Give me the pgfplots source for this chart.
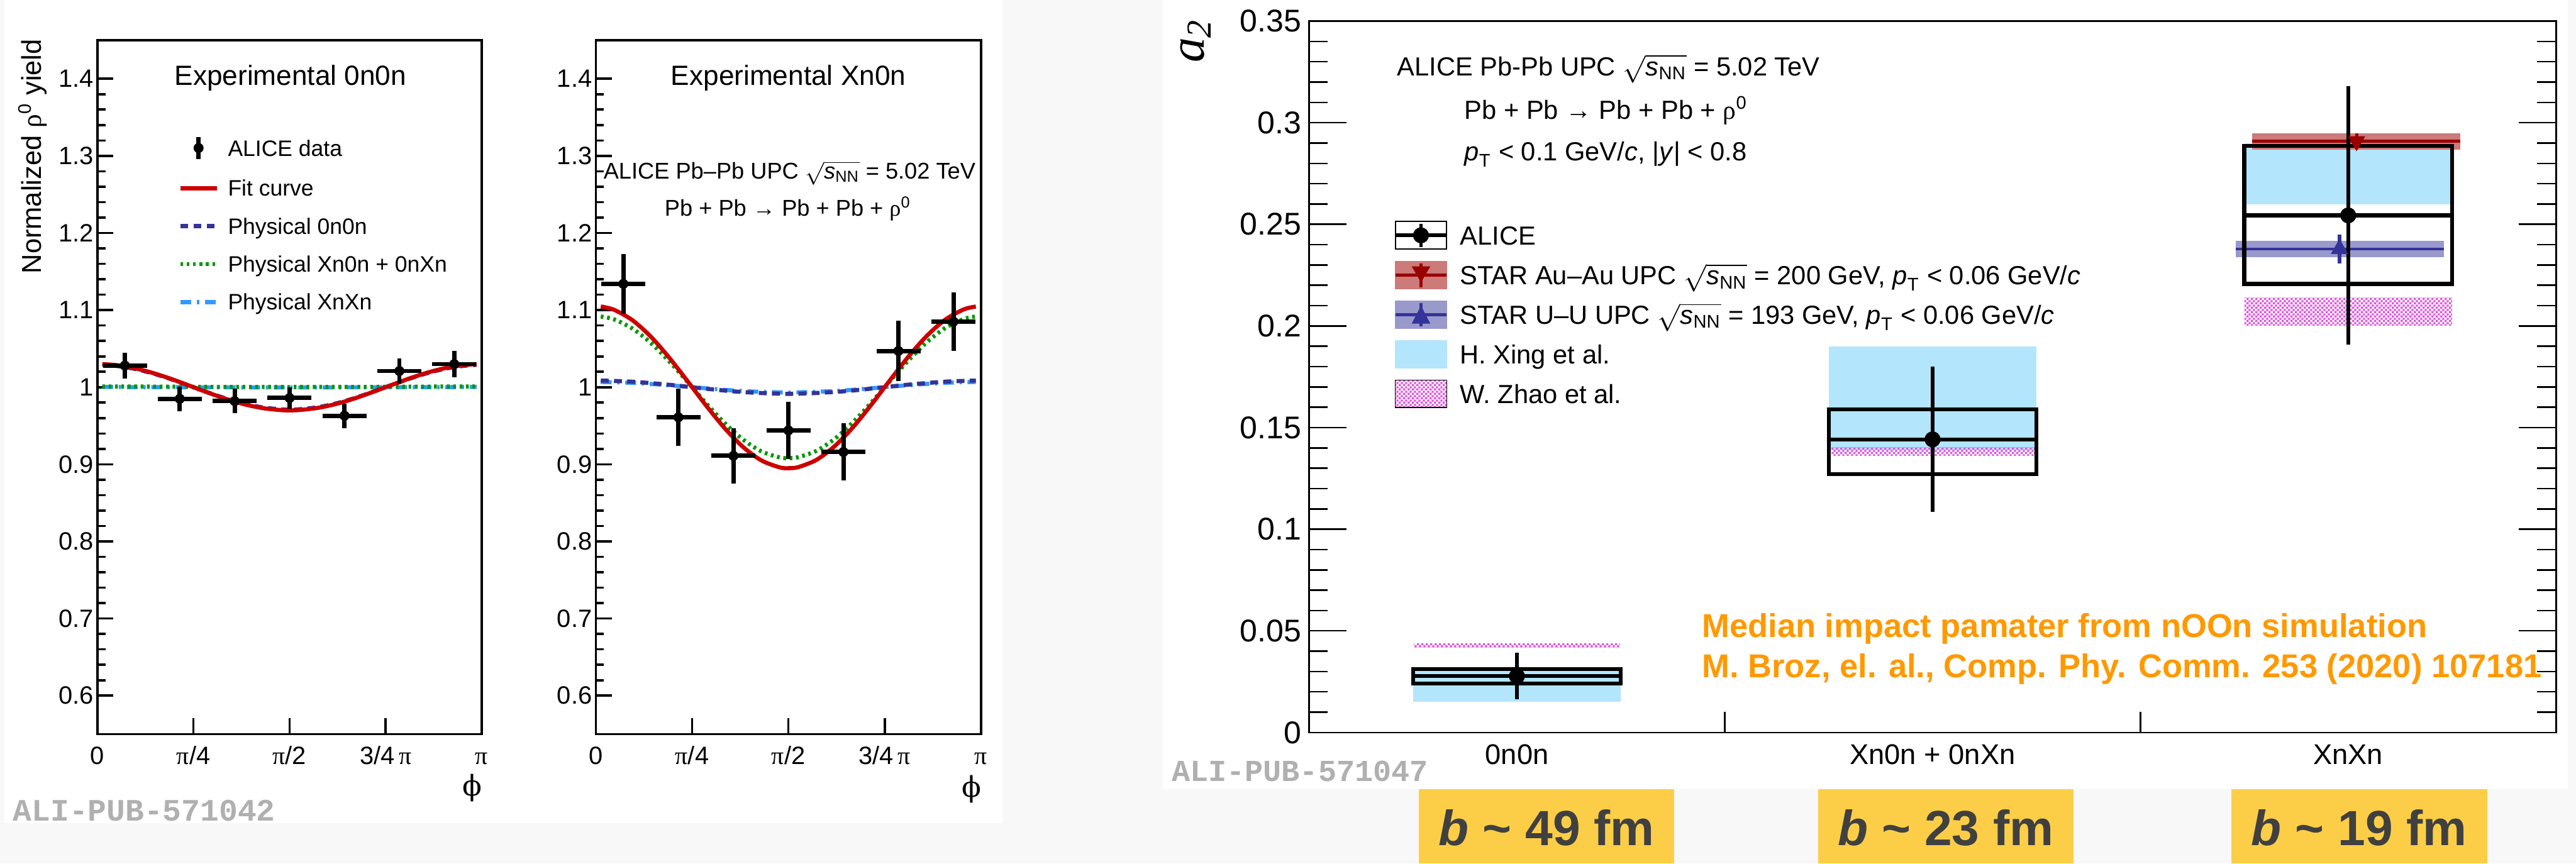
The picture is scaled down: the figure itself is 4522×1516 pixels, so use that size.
\documentclass[border=0pt]{standalone}
\usepackage{amsmath}
\usepackage{pgfplots}
\pgfplotsset{compat=1.18}
\usepackage{fontspec}
\setmainfont{Liberation Sans}
\newfontfamily\serif{Liberation Serif}
\newfontfamily\dvserif{DejaVu Serif}
\newfontfamily\mono{Liberation Mono}
\usetikzlibrary{patterns}

\pgfdeclarepatternformonly{finecheck}{\pgfpointorigin}{\pgfpoint{2pt}{2pt}}{\pgfpoint{2pt}{2pt}}{%
  \pgfpathrectangle{\pgfpointorigin}{\pgfpoint{1pt}{1pt}}%
  \pgfpathrectangle{\pgfpoint{1pt}{1pt}}{\pgfpoint{1pt}{1pt}}%
  \pgfusepath{fill}}

\definecolor{rootred}{RGB}{204,0,0}
\definecolor{rootdblue}{RGB}{51,51,153}
\definecolor{rootgreen}{RGB}{0,153,0}
\definecolor{rootlblue}{RGB}{51,153,255}
\definecolor{xing}{RGB}{179,229,252}
\definecolor{zhao}{RGB}{226,80,226}
\definecolor{starred}{RGB}{153,0,0}
\definecolor{starredband}{RGB}{204,122,122}
\definecolor{starblue}{RGB}{51,51,153}
\definecolor{starblueband}{RGB}{153,153,204}
\definecolor{orangetxt}{RGB}{255,153,0}
\definecolor{yellowbox}{RGB}{252,206,72}
\definecolor{boxtxt}{RGB}{64,64,64}
\definecolor{bggray}{RGB}{248,248,248}
\definecolor{aligray}{RGB}{176,176,176}

\newcommand{\sNN}{$\sqrt{\textit{s}_{\text{NN}}}$}
\newcommand{\pT}{$\textit{p}_{\text{T}}$}

\pgfplotsset{
  phiaxis/.style={
    scale only axis, height=304.6pt,
    xmin=0, xmax=3.14159, ymin=0.55, ymax=1.45,
    axis line style={line width=1pt},
    tick style={black, line width=1pt},
    tick align=inside, tick pos=left,
    xtick={0,0.785398,1.570796,2.356194,3.141593},
    xticklabels={0,{\serif π}/4,{\serif π}/2,{3/4\,{\serif π}},{\serif π}},
    minor x tick num=4,
    ytick={0.6,0.7,0.8,0.9,1,1.1,1.2,1.3,1.4},
    minor y tick num=4,
    scaled y ticks=false,
    major tick length=7pt, minor tick length=3.5pt,
    /pgf/number format/assume math mode=true,
    tick label style={font=\fontsize{11}{13}\selectfont},
    yticklabel style={inner xsep=1.5pt},
    xticklabel style={anchor=base, yshift=-13.25pt},
    legend cell align=left,
  }
}

\begin{document}
\begin{tikzpicture}
\begin{scope}[x=0.25pt,y=-0.25pt]
  \useasboundingbox (0,0) rectangle (4522,1516);
  \fill[bggray] (0,0) rectangle (4522,1516);
  \fill[white] (8,0) rectangle (1760,1445);
  \fill[white] (2041,0) rectangle (4508,1385);
  \coordinate (A1) at (171,1289);
  \coordinate (A2) at (1046,1289);
  \coordinate (A3) at (2298,1286);
\end{scope}

% ---------------- Panel 1: Experimental 0n0n ----------------
\begin{axis}[phiaxis, at={(A1)}, anchor=south west, width=168.65pt,
  legend style={draw=none, fill=none, at={(0.2105,0.8634)}, anchor=north west,
    inner sep=0pt, outer sep=0pt, row sep=7.25pt,
    font=\fontsize{9.8}{11}\selectfont,
    nodes={inner sep=0pt, text height=8.2pt, text depth=1.2pt},
    /tikz/every odd column/.append style={column sep=4pt}}]
\addlegendimage{legend image code/.code={\draw[draw=none] (0pt,0pt)--(16pt,0pt);
  \draw[black,line width=1.9pt] (8pt,-4.75pt)--(8pt,4.75pt); \fill[black] (8pt,0pt) circle (2pt);}}
\addlegendimage{legend image code/.code={\draw[rootred,line width=1.8pt] (0pt,0pt)--(16pt,0pt);}}
\addlegendimage{legend image code/.code={\draw[rootdblue,line width=1.8pt,dash pattern=on 3.5pt off 2.3pt] (0pt,0pt)--(16pt,0pt);}}
\addlegendimage{legend image code/.code={\draw[rootgreen,line width=1.8pt,dash pattern=on 1.2pt off 1.6pt] (0pt,0pt)--(16pt,0pt);}}
\addlegendimage{legend image code/.code={\draw[rootlblue,line width=1.8pt,dash pattern=on 4.75pt off 2.5pt on 1pt off 2.5pt] (0pt,0pt)--(16pt,0pt);}}
\legend{ALICE data, Fit curve, Physical 0n0n, Physical Xn0n + 0nXn, Physical XnXn}

\addplot[forget plot, rootlblue, line width=1.8pt, dash pattern=on 4.75pt off 2.5pt on 1pt off 2.5pt, smooth]
  coordinates {(0.04,1.0003) (0.90,0.9999) (1.5708,0.9997) (2.25,0.9999) (3.10,1.0003)};
\addplot[forget plot, rootgreen, line width=1.8pt, dash pattern=on 1.2pt off 1.6pt, smooth]
  coordinates {(0.04,1.0010) (0.45,1.0008) (0.90,1.0004) (1.5708,1.0002) (2.25,1.0004) (2.70,1.0008) (3.10,1.0010)};
\addplot[forget plot, rootdblue, line width=1.8pt, dash pattern=on 3.5pt off 2.3pt, smooth]
  coordinates {(0.04,1.0289) (0.15,1.0277) (0.30,1.0239) (0.45,1.0180) (0.60,1.0105) (0.75,1.0021) (0.90,0.9934) (1.05,0.9854) (1.20,0.9786) (1.35,0.9738) (1.50,0.9713) (1.5708,0.9710) (1.65,0.9714) (1.80,0.9740) (1.95,0.9789) (2.10,0.9858) (2.25,0.9939) (2.40,1.0025) (2.55,1.0110) (2.70,1.0184) (2.85,1.0242) (3.00,1.0278) (3.10,1.0289)};
\addplot[forget plot, rootred, line width=1.8pt, smooth]
  coordinates {(0.04,1.0299) (0.15,1.0287) (0.30,1.0248) (0.45,1.0186) (0.60,1.0109) (0.75,1.0021) (0.90,0.9932) (1.05,0.9849) (1.20,0.9779) (1.35,0.9729) (1.50,0.9703) (1.5708,0.9700) (1.65,0.9704) (1.80,0.9731) (1.95,0.9782) (2.10,0.9853) (2.25,0.9937) (2.40,1.0026) (2.55,1.0113) (2.70,1.0190) (2.85,1.0250) (3.00,1.0288) (3.10,1.0299)};
\addplot[forget plot, black, only marks, mark=*, mark size=2pt,
  error bars/.cd, x dir=both, x explicit, y dir=both, y explicit,
  error bar style={line width=1.9pt, black}, error mark=none]
  table[x=x, y=y, x error=ex, y error=ey] {
x ex y ey
0.2244 0.18 1.028 0.017
0.6732 0.18 0.985 0.016
1.1220 0.18 0.982 0.016
1.5708 0.18 0.986 0.014
2.0196 0.18 0.963 0.016
2.4684 0.18 1.021 0.016
2.9172 0.18 1.030 0.017
};
\end{axis}

% ---------------- Panel 2: Experimental Xn0n ----------------
\begin{axis}[phiaxis, at={(A2)}, anchor=south west, width=169pt]
\addplot[rootlblue, line width=1.8pt, dash pattern=on 4.75pt off 2.5pt on 1pt off 2.5pt, smooth]
  coordinates {(0.04,1.0068) (0.30,1.0056) (0.60,1.0025) (0.90,0.9985) (1.20,0.9950) (1.5708,0.9932) (1.95,0.9951) (2.25,0.9986) (2.55,1.0026) (2.85,1.0057) (3.10,1.0068)};
\addplot[rootdblue, line width=1.8pt, dash pattern=on 3.5pt off 2.3pt, smooth]
  coordinates {(0.04,1.0086) (0.30,1.0071) (0.60,1.0031) (0.90,0.9980) (1.20,0.9937) (1.5708,0.9914) (1.95,0.9938) (2.25,0.9982) (2.55,1.0033) (2.85,1.0072) (3.10,1.0086)};
\addplot[rootgreen, line width=1.8pt, dash pattern=on 1.2pt off 1.6pt, smooth]
  coordinates {(0.04,1.0917) (0.15,1.0879) (0.30,1.0759) (0.45,1.0572) (0.60,1.0333) (0.75,1.0065) (0.90,0.9791) (1.05,0.9536) (1.20,0.9322) (1.35,0.9168) (1.50,0.9089) (1.5708,0.9080) (1.65,0.9092) (1.80,0.9175) (1.95,0.9332) (2.10,0.9549) (2.25,0.9806) (2.40,1.0081) (2.55,1.0348) (2.70,1.0584) (2.85,1.0768) (3.00,1.0883) (3.10,1.0917)};
\addplot[rootred, line width=1.8pt, smooth]
  coordinates {(0.04,1.1047) (0.15,1.1003) (0.30,1.0867) (0.45,1.0653) (0.60,1.0380) (0.75,1.0074) (0.90,0.9761) (1.05,0.9470) (1.20,0.9226) (1.35,0.9051) (1.50,0.8960) (1.5708,0.8950) (1.65,0.8963) (1.80,0.9058) (1.95,0.9238) (2.10,0.9485) (2.25,0.9779) (2.40,1.0092) (2.55,1.0397) (2.70,1.0666) (2.85,1.0876) (3.00,1.1008) (3.10,1.1046)};
\addplot[black, only marks, mark=*, mark size=2pt,
  error bars/.cd, x dir=both, x explicit, y dir=both, y explicit,
  error bar style={line width=1.9pt, black}, error mark=none]
  table[x=x, y=y, x error=ex, y error=ey] {
x ex y ey
0.2244 0.18 1.134 0.039
0.6732 0.18 0.961 0.037
1.1220 0.18 0.911 0.036
1.5708 0.18 0.944 0.037
2.0196 0.18 0.916 0.037
2.4684 0.18 1.047 0.039
2.9172 0.18 1.085 0.038
};
\end{axis}

% ---------------- Panel 3: a2 ----------------
\begin{axis}[at={(A3)}, anchor=south west, scale only axis, width=547.25pt, height=312.25pt,
  xmin=0, xmax=3, ymin=0, ymax=0.35, xtick=\empty,
  ytick={0,0.05,0.1,0.15,0.2,0.25,0.3,0.35}, minor y tick num=4,
  scaled y ticks=false,
  ytick pos=both, yticklabel pos=left, tick align=inside,
  major tick length=16.5pt, minor tick length=8.25pt,
  axis line style={line width=0.7pt}, tick style={black, line width=0.7pt},
  /pgf/number format/assume math mode=true,
  yticklabel style={font=\fontsize{13.8}{16}\selectfont, inner xsep=0pt, xshift=-3.3pt, /pgf/number format/fixed},
  legend cell align=left,
  legend style={draw=none, fill=none, at={(0.0676,0.7193)}, anchor=north west,
    inner sep=0pt, outer sep=0pt, row sep=4.9pt,
    font=\fontsize{11.5}{13}\selectfont,
    nodes={inner sep=0pt, text height=9.5pt, text depth=1.3pt},
    /tikz/every odd column/.append style={column sep=5pt}}]
\addlegendimage{legend image code/.code={
  \draw[black,line width=0.6pt,fill=white] (0pt,-6.1pt) rectangle (22.5pt,6.1pt);
  \draw[black,line width=1.75pt] (0pt,0pt)--(22.5pt,0pt);
  \draw[black,line width=1.5pt] (11.25pt,-5.1pt)--(11.25pt,5.1pt);
  \fill[black] (11.25pt,0pt) circle (3.3pt);}}
\addlegendimage{legend image code/.code={
  \fill[starredband] (0pt,-6pt) rectangle (22.5pt,6pt);
  \draw[starred,line width=1.25pt] (0pt,0pt)--(22.5pt,0pt);
  \draw[starred,line width=1.4pt] (11.25pt,-5.2pt)--(11.25pt,5.2pt);
  \fill[starred] (7.5pt,3.7pt)--(15pt,3.7pt)--(11.25pt,-2.75pt)--cycle;}}
\addlegendimage{legend image code/.code={
  \fill[starblueband] (0pt,-6pt) rectangle (22.5pt,6pt);
  \draw[starblue,line width=1.25pt] (0pt,0pt)--(22.5pt,0pt);
  \draw[starblue,line width=1.4pt] (11.25pt,-5.2pt)--(11.25pt,5.2pt);
  \fill[starblue] (7.5pt,-3.75pt)--(15pt,-3.75pt)--(11.25pt,3.5pt)--cycle;}}
\addlegendimage{legend image code/.code={
  \fill[xing] (0pt,-6.1pt) rectangle (22.5pt,6.1pt);}}
\addlegendimage{legend image code/.code={
  \fill[pattern=finecheck, pattern color=zhao] (0pt,-6pt) rectangle (22.5pt,6pt);}}
\legend{ALICE,
  {STAR Au–Au UPC \sNN{} = 200 GeV, \pT{} < 0.06 GeV/\textit{c}},
  {STAR U–U UPC \sNN{} = 193 GeV, \pT{} < 0.06 GeV/\textit{c}},
  H. Xing et al.,
  W. Zhao et al.}

% H. Xing et al. bands
\addplot[forget plot, fill=xing, draw=none] coordinates {(0.25,0.0151) (0.75,0.0151) (0.75,0.031) (0.25,0.031)} --cycle;
\addplot[forget plot, fill=xing, draw=none] coordinates {(1.25,0.139) (1.75,0.139) (1.75,0.190) (1.25,0.190)} --cycle;
\addplot[forget plot, fill=xing, draw=none] coordinates {(2.25,0.2598) (2.745,0.2598) (2.745,0.2898) (2.25,0.2898)} --cycle;
% W. Zhao et al. bands
\addplot[forget plot, pattern=finecheck, pattern color=zhao, draw=none] coordinates {(0.253,0.0419) (0.748,0.0419) (0.748,0.0437) (0.253,0.0437)} --cycle;
\addplot[forget plot, pattern=finecheck, pattern color=zhao, draw=none] coordinates {(1.257,0.1362) (1.745,0.1362) (1.745,0.1401) (1.257,0.1401)} --cycle;
\addplot[forget plot, pattern=finecheck, pattern color=zhao, draw=none] coordinates {(2.25,0.2004) (2.75,0.2004) (2.75,0.2138) (2.25,0.2138)} --cycle;
% STAR bands
\addplot[forget plot, fill=starredband, draw=none] coordinates {(2.269,0.2867) (2.770,0.2867) (2.770,0.2948) (2.269,0.2948)} --cycle;
\addplot[forget plot, fill=starblueband, draw=none] coordinates {(2.230,0.2337) (2.730,0.2337) (2.730,0.2418) (2.230,0.2418)} --cycle;
\addplot[forget plot, starred, line width=1.3pt] coordinates {(2.269,0.2909) (2.770,0.2909)};
\addplot[forget plot, starblue, line width=1.3pt] coordinates {(2.230,0.2379) (2.730,0.2379)};
\addplot[forget plot, starred, only marks, mark=triangle*, mark size=4pt, mark options={rotate=180, fill=starred},
  error bars/.cd, y dir=both, y explicit, error bar style={line width=1.4pt, starred}, error mark=none]
  coordinates {(2.520,0.2909) +- (0,0.004)};
\addplot[forget plot, starblue, only marks, mark=triangle*, mark size=4pt, mark options={fill=starblue},
  error bars/.cd, y dir=both, y explicit, error bar style={line width=1.4pt, starblue}, error mark=none]
  coordinates {(2.479,0.2379) +- (0,0.0072)};
% ALICE systematic boxes
\addplot[forget plot, black, line width=1.75pt] coordinates {(0.25,0.0240) (0.75,0.0240) (0.75,0.0313) (0.25,0.0313)} --cycle;
\addplot[forget plot, black, line width=1.75pt] coordinates {(1.25,0.1272) (1.75,0.1272) (1.75,0.1589) (1.25,0.1589)} --cycle;
\addplot[forget plot, black, line width=1.75pt] coordinates {(2.25,0.2207) (2.75,0.2207) (2.75,0.2885) (2.25,0.2885)} --cycle;
% ALICE points with stat errors
\addplot[forget plot, black, only marks, mark=*, mark size=3.3pt,
  error bars/.cd, x dir=both, x explicit, y dir=both, y explicit,
  error bar style={line width=1.75pt, black}, error mark=none]
  coordinates {(0.5,0.0277) +- (0.25,0.0114) (1.5,0.1442) +- (0.25,0.0357) (2.5,0.2544) +- (0.25,0.0637)};
\draw[black, line width=0.7pt] (axis cs:1,0) -- ++(0pt,9pt);
\draw[black, line width=0.7pt] (axis cs:2,0) -- ++(0pt,9pt);
\end{axis}

% ---------------- Texts ----------------
\begin{scope}[x=0.25pt,y=-0.25pt]
  \node[anchor=base, inner sep=0pt, font=\fontsize{12.2}{14}\selectfont] at (510,150) {Experimental 0n0n};
  \node[anchor=base, inner sep=0pt, font=\fontsize{12.2}{14}\selectfont] at (1384,150) {Experimental Xn0n};
  \node[anchor=base, inner sep=0pt, font=\fontsize{10}{12}\selectfont] at (1386,314) {ALICE Pb–Pb UPC \sNN{} = 5.02 TeV};
  \node[anchor=base, inner sep=0pt, font=\fontsize{10}{12}\selectfont] at (1383,379) {Pb + Pb {\serif →} Pb + Pb + {\serif ρ}\textsuperscript{0}};
  \node[rotate=90, anchor=east, inner sep=0pt, font=\fontsize{12}{14}\selectfont] at (57,68) {Normalized {\serif ρ}\textsuperscript{0} yield};
  \node[inner sep=0pt, font=\fontsize{12.5}{14}\dvserif] at (829.5,1383) {ϕ};
  \node[inner sep=0pt, font=\fontsize{12.5}{14}\dvserif] at (1706,1385) {ϕ};
  \node[anchor=base west, inner sep=0pt, font=\fontsize{13.7}{15}\mono\bfseries, text=aligray] at (22,1441) {ALI-PUB-571042};

  \node[rotate=90, inner sep=0pt, font=\fontsize{22}{26}\serif\itshape] at (2099,72) {a\textsubscript{2}};
  \node[anchor=base west, inner sep=0pt, font=\fontsize{11.5}{13}\selectfont] at (2452,132.6) {ALICE Pb-Pb UPC \sNN{} = 5.02 TeV};
  \node[anchor=base west, inner sep=0pt, font=\fontsize{11.5}{13}\selectfont] at (2570,209) {Pb + Pb {\serif →} Pb + Pb + {\serif ρ}\textsuperscript{0}};
  \node[anchor=base west, inner sep=0pt, font=\fontsize{11.5}{13}\selectfont] at (2570,282) {\pT{} < 0.1 GeV/\textit{c}, |\textit{y}| < 0.8};

  \node[anchor=base, inner sep=0pt, font=\fontsize{12.5}{14}\selectfont] at (2663,1342) {0n0n};
  \node[anchor=base, inner sep=0pt, font=\fontsize{12.5}{14}\selectfont] at (3392.5,1342) {Xn0n + 0nXn};
  \node[anchor=base, inner sep=0pt, font=\fontsize{12.5}{14}\selectfont] at (4122,1342) {XnXn};

  \node[anchor=base west, inner sep=0pt, font=\fontsize{14.5}{17}\selectfont\bfseries, text=orangetxt] at (2987,1119) {Median impact pamater from nOOn simulation};
  \node[anchor=base west, inner sep=0pt, font=\fontsize{14.5}{17}\selectfont\bfseries, text=orangetxt] at (2987,1190) {M. Broz, el. al., Comp. Phy. Comm. 253 (2020) 107181};

  \node[anchor=base west, inner sep=0pt, font=\fontsize{13.4}{15}\mono\bfseries, text=aligray] at (2056,1372) {ALI-PUB-571047};

  \fill[yellowbox] (2491,1385) rectangle (2939,1516);
  \fill[yellowbox] (3192,1385) rectangle (3640,1516);
  \fill[yellowbox] (3917,1385) rectangle (4366,1516);
  \node[anchor=base, inner sep=0pt, font=\fontsize{21.7}{25}\selectfont\bfseries, text=boxtxt] at (2715,1484) {\textit{b} \textasciitilde{} 49 fm};
  \node[anchor=base, inner sep=0pt, font=\fontsize{21.7}{25}\selectfont\bfseries, text=boxtxt] at (3416,1484) {\textit{b} \textasciitilde{} 23 fm};
  \node[anchor=base, inner sep=0pt, font=\fontsize{21.7}{25}\selectfont\bfseries, text=boxtxt] at (4141.5,1484) {\textit{b} \textasciitilde{} 19 fm};
\end{scope}
\end{tikzpicture}
\end{document}
